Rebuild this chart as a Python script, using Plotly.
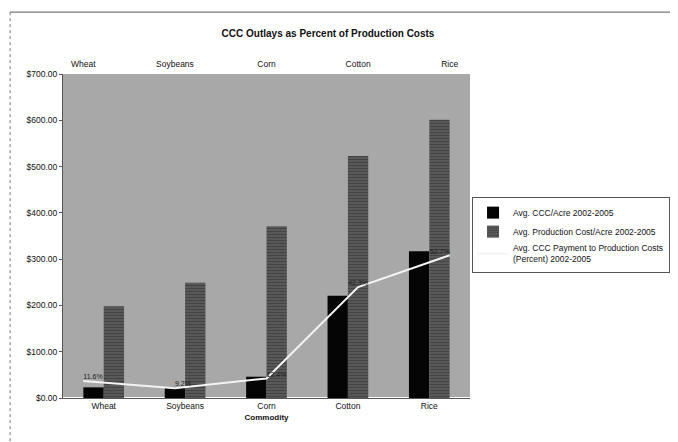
import plotly.graph_objects as go

commodities = ["Wheat", "Soybeans", "Corn", "Cotton", "Rice"]
ccc_per_acre = [23, 23, 46, 221, 317]
prod_cost_per_acre = [198, 249, 371, 523, 601]
ccc_pct_of_cost = [11.6, 9.2, 12.4, 42.3, 52.7]
y_ticks = [0, 100, 200, 300, 400, 500, 600, 700]

FONT = "Arial, Liberation Sans, sans-serif"

fig = go.Figure()
fig.add_trace(go.Bar(
    x=commodities, y=ccc_per_acre, name="Avg. CCC/Acre 2002-2005",
    marker=dict(color="#050505", line=dict(width=0)),
))
fig.add_trace(go.Bar(
    x=commodities, y=prod_cost_per_acre, name="Avg. Production Cost/Acre 2002-2005",
    marker=dict(color="#606060", line=dict(width=0),
                pattern=dict(shape="-", fgcolor="#252525", size=3, solidity=0.5)),
))
fig.add_trace(go.Scatter(
    x=commodities, y=ccc_pct_of_cost, xaxis="x2", yaxis="y2",
    name="Avg. CCC Payment to Production Costs<br>(Percent) 2002-2005",
    mode="lines+text", line=dict(color="#f4f4f4", width=2),
    text=[f"{v:.1f}%" for v in ccc_pct_of_cost],
    textposition=["top right", "top right", "top right", "top center", "top left"],
    textfont=dict(family=FONT, size=7, color="#222222"),
))

fig.update_layout(
    width=678, height=442,
    margin=dict(l=55, r=216, t=66, b=52),
    paper_bgcolor="white", plot_bgcolor="#a8a8a8",
    barmode="group", bargap=0.5, bargroupgap=0,
    font=dict(family=FONT, size=8, color="#111111"),
    title=dict(text="<b>CCC Outlays as Percent of Production Costs</b>",
               x=0.472, xanchor="center", y=0.943, yanchor="middle",
               font=dict(family=FONT, size=10, color="#111111")),
    xaxis=dict(title=dict(text="<b>Commodity</b>", standoff=4, font=dict(size=8)),
               tickfont=dict(size=8.5), showgrid=False, showline=True,
               linecolor="#555555", linewidth=1, ticks=""),
    xaxis2=dict(overlaying="x", side="top", showgrid=False, tickfont=dict(size=8.5),
                showline=False, ticks="", ticklabelstandoff=4),
    yaxis=dict(range=[0, 700], tickvals=y_ticks, tickformat="$,.2f",
               showgrid=False, showline=True, linecolor="#555555", linewidth=1,
               ticks="outside", ticklen=3, tickcolor="#555555", tickfont=dict(size=8.5)),
    yaxis2=dict(overlaying="y", side="right", range=[6, 112], visible=False),
    legend=dict(x=1.005, y=0.62, xanchor="left", yanchor="top",
                bordercolor="#555555", borderwidth=1, bgcolor="white",
                font=dict(family=FONT, size=8.5), tracegroupgap=4,
                itemwidth=30),
    showlegend=True,
)

# scanned page border
fig.add_shape(type="line", xref="paper", yref="paper", x0=-0.13, x1=1.6, y0=1.191, y1=1.191,
              line=dict(color="#555555", width=1))
fig.add_shape(type="line", xref="paper", yref="paper", x0=-0.13, x1=-0.13, y0=1.191, y1=-0.2,
              line=dict(color="#777777", width=1, dash="dot"))

fig.write_html("out.html")
